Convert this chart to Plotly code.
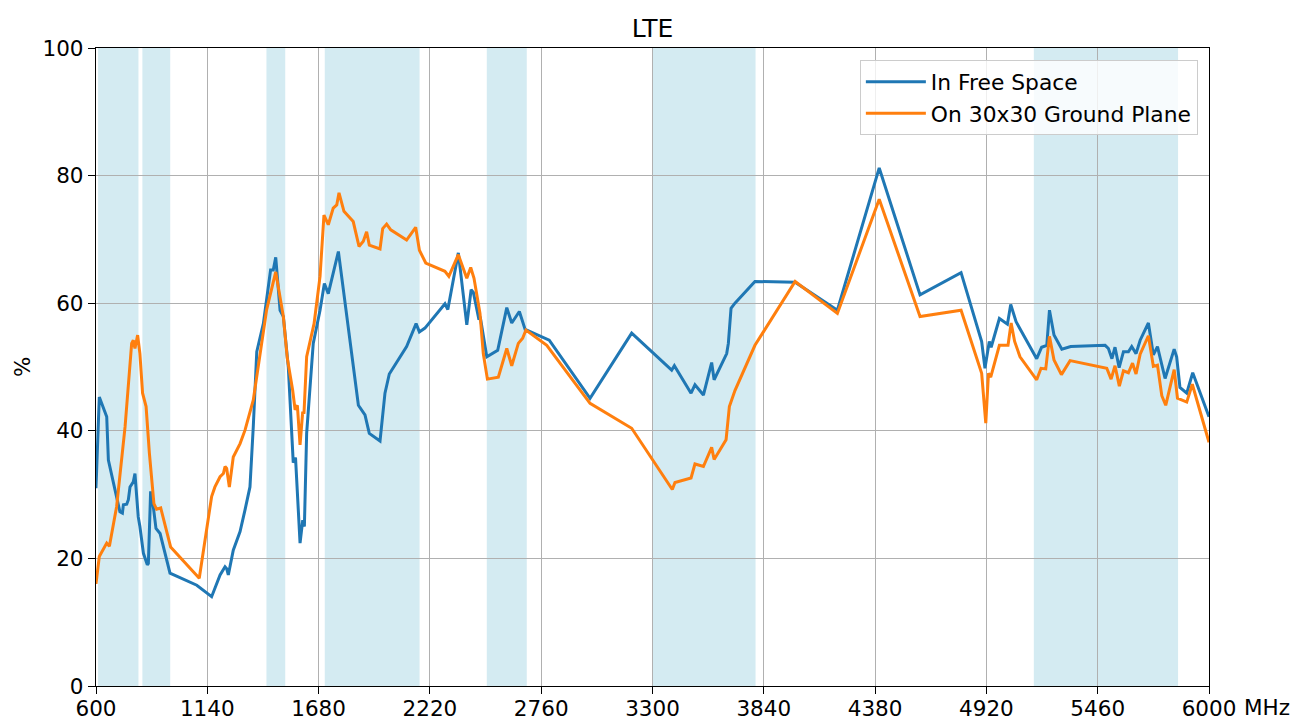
import plotly.graph_objects as go

# ---------------- data ----------------
free_mhz = [600, 616, 652, 660, 716, 728, 733, 749, 757, 765, 781, 789, 805, 813, 830, 849, 854,
            865, 878, 891, 911, 959, 1089, 1161, 1202, 1226, 1234, 1242, 1266, 1299, 1323, 1347,
            1363, 1380, 1412, 1447, 1460, 1472, 1493, 1509, 1533, 1557, 1568, 1590, 1603, 1611,
            1622, 1654, 1687, 1708, 1727, 1776, 1873, 1905, 1926, 1978, 2002, 2023, 2107, 2153,
            2169, 2196, 2293, 2307, 2358, 2399, 2420, 2431, 2458, 2463, 2466, 2496, 2549, 2593,
            2617, 2654, 2682, 2799, 2997, 3199, 3393, 3406, 3487, 3506, 3547, 3587, 3599, 3660,
            3668, 3681, 3700, 3797, 3992, 4197, 4400, 4598, 4797, 4897, 4913, 4934, 4943, 4983,
            5022, 5038, 5064, 5164, 5188, 5213, 5226, 5248, 5286, 5329, 5496, 5512, 5529, 5544,
            5564, 5585, 5609, 5625, 5646, 5666, 5706, 5730, 5750, 5787, 5831, 5843, 5859, 5892,
            5921, 6000]
free_eff = [31.0, 45.3, 42.2, 35.4, 27.3, 27.1, 28.4, 28.5, 29.2, 31.2, 32.0, 33.3, 26.5, 25.0,
            20.8, 19.0, 19.2, 30.5, 28.1, 24.7, 23.9, 17.7, 15.8, 14.0, 17.4, 18.7, 18.4, 17.4,
            21.3, 24.2, 27.6, 31.2, 40.6, 52.4, 56.8, 65.2, 65.2, 67.2, 58.9, 57.9, 50.0, 35.0,
            35.8, 22.4, 26.0, 25.0, 39.6, 53.7, 58.9, 63.1, 61.5, 68.1, 44.0, 42.5, 39.6, 38.4,
            45.9, 48.9, 53.2, 56.8, 55.5, 56.1, 59.9, 59.0, 67.9, 56.6, 62.1, 61.7, 57.4, 57.9,
            57.5, 51.6, 52.6, 59.3, 56.9, 58.7, 55.9, 54.2, 45.1, 55.3, 49.5, 50.2, 45.9, 47.2,
            45.6, 50.7, 48.0, 52.1, 53.7, 59.2, 60.0, 63.4, 63.3, 58.9, 81.2, 61.3, 64.8, 54.0,
            49.8, 54.0, 53.1, 57.6, 56.7, 59.8, 57.1, 51.3, 53.1, 53.4, 58.9, 55.0, 52.8, 53.2,
            53.4, 52.9, 51.3, 53.1, 49.9, 52.4, 52.4, 53.2, 52.1, 54.2, 56.9, 51.9, 53.2, 48.2,
            52.8, 51.6, 46.8, 45.9, 49.1, 42.2]

ground_mhz = [600, 616, 652, 665, 700, 741, 773, 781, 789, 802, 813, 826, 843, 859, 881, 894,
              914, 962, 1101, 1161, 1177, 1202, 1218, 1226, 1234, 1247, 1266, 1299, 1323, 1363,
              1428, 1452, 1472, 1509, 1528, 1554, 1566, 1577, 1590, 1603, 1609, 1622, 1658, 1687,
              1706, 1727, 1751, 1768, 1779, 1803, 1848, 1876, 1897, 1913, 1926, 1978, 1991, 2010,
              2030, 2107, 2151, 2169, 2200, 2293, 2312, 2358, 2399, 2418, 2434, 2463, 2479, 2499,
              2552, 2593, 2617, 2649, 2670, 2686, 2787, 2997, 3199, 3396, 3409, 3487, 3506, 3547,
              3587, 3599, 3657, 3673, 3700, 3797, 3992, 4197, 4400, 4598, 4797, 4897, 4917, 4930,
              4941, 4983, 5025, 5040, 5057, 5083, 5164, 5185, 5208, 5226, 5248, 5284, 5326, 5504,
              5525, 5544, 5565, 5585, 5609, 5629, 5646, 5666, 5706, 5730, 5750, 5771, 5790, 5831,
              5847, 5892, 5919, 6000]
ground_eff = [16.0, 20.3, 22.4, 21.9, 28.1, 40.6, 53.7, 54.2, 52.9, 55.0, 52.1, 45.9, 43.8, 36.5,
              28.6, 27.7, 27.9, 21.8, 16.9, 29.7, 31.2, 32.8, 33.3, 34.4, 34.1, 31.2, 35.9, 38.0,
              40.1, 44.8, 59.0, 62.1, 64.9, 57.9, 51.4, 46.4, 43.3, 44.0, 37.8, 43.0, 42.7, 51.6,
              56.8, 64.2, 73.8, 72.3, 74.9, 75.4, 77.3, 74.4, 72.8, 68.9, 69.7, 71.2, 69.1, 68.5,
              71.7, 72.4, 71.5, 69.9, 71.9, 68.3, 66.3, 65.0, 64.2, 67.6, 63.9, 65.6, 63.9, 58.4,
              52.1, 48.1, 48.4, 52.9, 50.2, 53.7, 54.5, 55.8, 53.4, 44.3, 40.4, 30.8, 31.9, 32.6,
              34.8, 34.4, 37.4, 35.5, 38.6, 43.8, 46.3, 53.4, 63.4, 58.4, 76.3, 57.9, 58.9, 49.0,
              41.2, 49.0, 48.4, 53.4, 53.4, 56.9, 54.0, 51.6, 48.0, 49.8, 49.7, 54.8, 51.1, 48.8,
              51.0, 49.8, 48.1, 50.2, 47.0, 49.4, 49.1, 50.6, 48.9, 52.0, 54.9, 50.1, 50.3, 45.5,
              44.0, 49.6, 45.1, 44.5, 47.3, 38.2]

band_start = [610, 825, 1427, 1710, 2496, 3300, 5150]
band_end = [806, 960, 1518, 2170, 2690, 3800, 5850]

x_ticks = [600, 1140, 1680, 2220, 2760, 3300, 3840, 4380, 4920, 5460, 6000]
y_ticks = [0, 20, 40, 60, 80, 100]

series_names = ["In Free Space", "On 30x30 Ground Plane"]
series_colors = ["#1f77b4", "#ff7f0e"]

# ---------------- figure ----------------
FONT = "DejaVu Sans"
TICK = 21.5
fig = go.Figure()
fig.add_trace(go.Scatter(x=free_mhz, y=free_eff, mode="lines", name=series_names[0],
                         line=dict(color=series_colors[0], width=3)))
fig.add_trace(go.Scatter(x=ground_mhz, y=ground_eff, mode="lines", name=series_names[1],
                         line=dict(color=series_colors[1], width=3)))

for s, e in zip(band_start, band_end):
    fig.add_shape(type="rect", xref="x", yref="y", x0=s, x1=e, y0=0, y1=100,
                  fillcolor="rgba(173,216,230,0.52)", line=dict(width=0), layer="below")

W, H = 1297, 722
fig.update_layout(
    width=W, height=H,
    margin=dict(l=88, r=96, t=40, b=44, autoexpand=False),
    paper_bgcolor="white", plot_bgcolor="white",
    font=dict(family=FONT, size=TICK, color="black"),
    title=dict(text="LTE", x=(652.5 - 8) / W, xanchor="center", y=1 - 20 / H, yanchor="middle",
               font=dict(family=FONT, size=25, color="black")),
    showlegend=True,
    legend=dict(x=0.990, y=0.981, xanchor="right", yanchor="top",
                bgcolor="rgba(255,255,255,0.8)", bordercolor="#cccccc", borderwidth=1,
                font=dict(family=FONT, size=21.8, color="black"), tracegroupgap=0,
                itemwidth=60),
)
fig.update_xaxes(range=[600, 6000], tickvals=x_ticks, ticktext=[str(v) for v in x_ticks],
                 showgrid=True, gridcolor="#b0b0b0", gridwidth=1.3,
                 showline=True, linecolor="black", linewidth=1.3, mirror=True,
                 ticks="outside", ticklen=7, tickcolor="black", tickwidth=1.3,
                 ticklabelstandoff=-4,
                 tickfont=dict(family=FONT, size=TICK), zeroline=False, automargin=False)
fig.update_yaxes(range=[0, 100], tickvals=y_ticks,
                 showgrid=True, gridcolor="#b0b0b0", gridwidth=1.3,
                 showline=True, linecolor="black", linewidth=1.3, mirror=True,
                 ticks="outside", ticklen=7, tickcolor="black", tickwidth=1.3,
                 tickfont=dict(family=FONT, size=TICK), zeroline=False, automargin=False)

fig.add_annotation(text="MHz", xref="paper", yref="paper", x=1.0, y=0, xanchor="left",
                   yanchor="middle", xshift=33, yshift=-21, showarrow=False,
                   font=dict(family=FONT, size=TICK, color="black"))
fig.add_annotation(text="%", xref="paper", yref="paper", x=(22 - 96) / 1113, y=0.5,
                   xanchor="center", yanchor="middle", textangle=-90, showarrow=False,
                   borderpad=0,
                   font=dict(family=FONT, size=TICK, color="black"))

fig.write_html("out.html")
